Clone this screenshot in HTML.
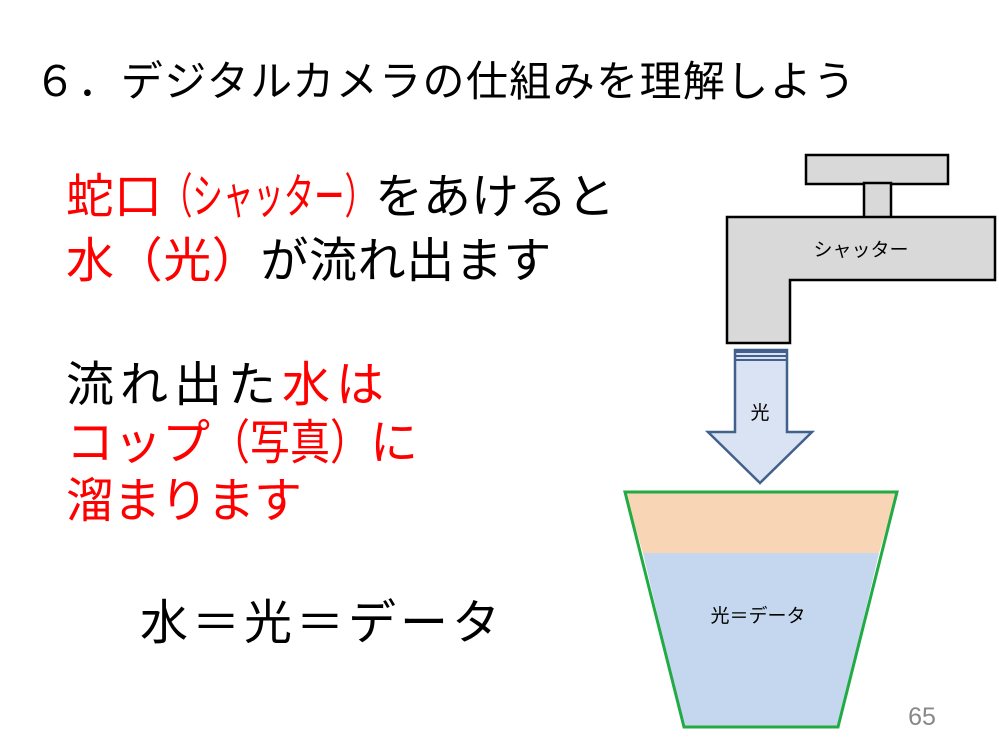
<!DOCTYPE html>
<html><head><meta charset="utf-8"><style>
body{margin:0;width:999px;height:747px;background:#fff;overflow:hidden;position:relative;font-family:"Liberation Sans","Noto Sans CJK JP",sans-serif}
.t{position:absolute;white-space:nowrap;line-height:1;font-family:"Noto Sans CJK JP",sans-serif}
.r{color:#f00}
.sq{display:inline-block;overflow:visible;vertical-align:top}
.sq>span{display:inline-block;transform-origin:0 0}
</style></head><body>
<div class="t" style="left:34px;top:58px;font-size:42px;letter-spacing:1.4px">６．デジタルカメラの仕組みを理解しよう</div>
<div class="t" style="left:66px;top:168px;font-size:48px"><span class="r">蛇口<span class="sq" style="width:213px"><span style="transform:scaleX(0.634)">（シャッター）</span></span></span>をあけると</div>
<div class="t" style="left:66px;top:232px;font-size:48px;letter-spacing:0.6px"><span class="r">水（光）</span>が流れ出ます</div>
<div class="t" style="left:66px;top:356px;font-size:48px;letter-spacing:6px">流れ出た<span class="r">水は</span></div>
<div class="t r" style="left:66px;top:414px;font-size:48px">コップ<span class="sq" style="width:160px"><span style="transform:scaleX(0.833)">（写真）</span></span>に</div>
<div class="t r" style="left:66px;top:472px;font-size:48px;letter-spacing:-1px">溜まります</div>
<div class="t" style="left:140px;top:594px;font-size:48px;letter-spacing:4px">水＝光＝データ</div>
<svg width="999" height="747" style="position:absolute;left:0;top:0">
<rect x="806" y="155" width="142" height="29" fill="#d9d9d9" stroke="#000" stroke-width="2.5"/>
<rect x="864" y="183" width="27" height="35" fill="#d9d9d9" stroke="#000" stroke-width="2.5"/>
<path d="M727 217 H995 V280 H790 V343 H727 Z" fill="#d9d9d9" stroke="#000" stroke-width="2.5"/>
<text x="861" y="256" font-size="19" text-anchor="middle" font-family="Noto Sans CJK JP,sans-serif">シャッター</text>
<path d="M735 350 H787 V432 H812 L760 483 L708 432 H735 Z" fill="#dae3f3" stroke="#41618c" stroke-width="2.5"/>
<rect x="735" y="350" width="52" height="3" fill="#41618c"/>
<rect x="735" y="355" width="52" height="2" fill="#41618c"/>
<rect x="735" y="359" width="52" height="2" fill="#41618c"/>
<text x="760" y="419" font-size="19" text-anchor="middle" font-family="Noto Sans CJK JP,sans-serif">光</text>
<path d="M625 492 H897 L879 553 H643 Z" fill="#f8d5b4"/>
<path d="M643 553 H879 L838 727 H684 Z" fill="#c5d7ee"/>
<path d="M625 492 H897 L838 727 H684 Z" fill="none" stroke="#22aa44" stroke-width="3"/>
<text x="758" y="622" font-size="19" text-anchor="middle" font-family="Noto Sans CJK JP,sans-serif">光＝データ</text>
<text x="922" y="725" font-size="25" text-anchor="middle" fill="#888" font-family="Liberation Sans,sans-serif">65</text>
</svg>
</body></html>
